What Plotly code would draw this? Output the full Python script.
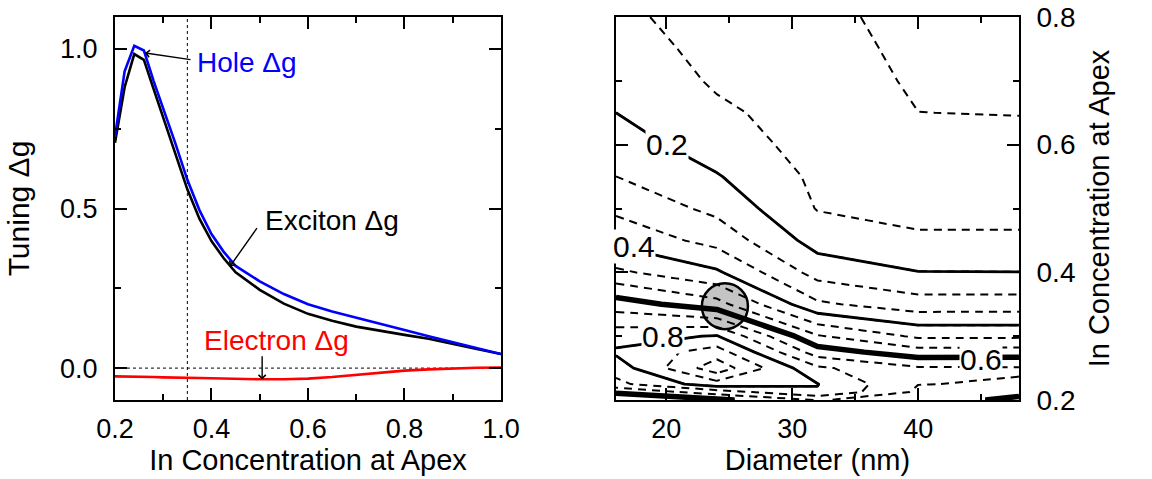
import plotly.graph_objects as go

# ---------------- Left panel data ----------------
conc = [0.20, 0.22, 0.24, 0.26, 0.28, 0.30, 0.325, 0.35, 0.375, 0.40, 0.425, 0.45,
        0.50, 0.55, 0.60, 0.65, 0.70, 0.75, 0.80, 0.85, 0.90, 0.95, 1.00]
hole_dg = [0.725, 0.93, 1.01, 0.995, 0.90, 0.815, 0.705, 0.59, 0.495, 0.42, 0.365, 0.32,
           0.272, 0.232, 0.200, 0.177, 0.157, 0.138, 0.119, 0.100, 0.082, 0.062, 0.044]
exciton_dg = [0.706, 0.88, 0.984, 0.966, 0.875, 0.785, 0.675, 0.560, 0.468, 0.398, 0.345, 0.300,
              0.245, 0.202, 0.170, 0.148, 0.130, 0.116, 0.104, 0.092, 0.077, 0.060, 0.044]
electron_dg = [-0.026, -0.026, -0.027, -0.027, -0.028, -0.029, -0.029, -0.030, -0.031, -0.032,
               -0.033, -0.034, -0.035, -0.035, -0.033, -0.028, -0.021, -0.014, -0.008, -0.004,
               -0.001, 0.001, 0.002]
marked_conc = 0.35

# ---------------- Right panel data ----------------
diameter = [16, 24, 32, 40, 48]
conc_grid = [0.200, 0.2125, 0.225, 0.250, 0.275, 0.300, 0.350, 0.400, 0.450, 0.500,
             0.550, 0.600, 0.650, 0.700, 0.750, 0.800]
# exciton tuning (rows: concentration, cols: diameter)
tuning_grid = [
    [0.550, 0.585, 0.670, 0.640, 0.580],
    [0.610, 0.700, 0.795, 0.655, 0.625],
    [0.715, 0.840, 0.802, 0.668, 0.662],
    [0.763, 0.975, 0.745, 0.675, 0.672],
    [0.810, 0.900, 0.633, 0.562, 0.565],
    [0.772, 0.805, 0.540, 0.455, 0.455],
    [0.633, 0.560, 0.345, 0.295, 0.296],
    [0.480, 0.410, 0.240, 0.202, 0.201],
    [0.383, 0.310, 0.173, 0.140, 0.140],
    [0.318, 0.250, 0.130, 0.120, 0.120],
    [0.267, 0.205, 0.120, 0.102, 0.100],
    [0.233, 0.165, 0.110, 0.085, 0.083],
    [0.200, 0.145, 0.105, 0.067, 0.065],
    [0.185, 0.125, 0.100, 0.058, 0.056],
    [0.170, 0.110, 0.090, 0.052, 0.048],
    [0.153, 0.095, 0.083, 0.045, 0.040],
]
contour_label_text = ["0.2", "0.4", "0.8", "0.6"]
contour_label_diam = [20.05, 17.45, 19.73, 44.98]
contour_label_conc = [0.600, 0.441, 0.300, 0.264]
circle_diam = 24.65
circle_conc = 0.347

FONT = "Liberation Sans, Arial, sans-serif"

fig = go.Figure()

# left panel curves
fig.add_trace(go.Scatter(x=[0.2, 1.0], y=[0, 0], mode="lines",
                         line=dict(color="black", width=1, dash="3px,3px"),
                         hoverinfo="skip", showlegend=False))
fig.add_trace(go.Scatter(x=conc, y=electron_dg, mode="lines",
                         line=dict(color="#ff0000", width=2.6), showlegend=False))
fig.add_trace(go.Scatter(x=conc, y=exciton_dg, mode="lines",
                         line=dict(color="black", width=2.6), showlegend=False))
fig.add_trace(go.Scatter(x=conc, y=hole_dg, mode="lines",
                         line=dict(color="#0000ff", width=2.6), showlegend=False))

# right panel contours
step = 1.0 / 15.0
fig.add_trace(go.Contour(x=diameter, y=conc_grid, z=tuning_grid, xaxis="x2", yaxis="y2",
                         autocontour=False, showlegend=False,
                         contours=dict(coloring="none", start=step, end=14 * step + 1e-6, size=step),
                         line=dict(color="black", width=2.0, dash="8px,6px", smoothing=0),
                         showscale=False, hoverinfo="skip"))
fig.add_trace(go.Contour(x=diameter, y=conc_grid, z=tuning_grid, xaxis="x2", yaxis="y2",
                         autocontour=False, showlegend=False,
                         contours=dict(coloring="none", start=0.2, end=0.8001, size=0.2),
                         line=dict(color="black", width=2.8, smoothing=0),
                         showscale=False, hoverinfo="skip"))
fig.add_trace(go.Contour(x=diameter, y=conc_grid, z=tuning_grid, xaxis="x2", yaxis="y2",
                         autocontour=False, showlegend=False,
                         contours=dict(coloring="none", start=0.6, end=0.6001, size=1.0),
                         line=dict(color="black", width=5.5, smoothing=0),
                         showscale=False, hoverinfo="skip"))

ax_common = dict(showline=True, linewidth=2, linecolor="black", mirror="ticks",
                 ticks="inside", ticklen=12, tickwidth=1.5, tickcolor="black",
                 showgrid=False, zeroline=False)

dom_y = [0.1649, 0.9645]
fig.update_layout(
    width=1152, height=479,
    margin=dict(l=0, r=0, t=0, b=0, autoexpand=False),
    showlegend=False,
    paper_bgcolor="white", plot_bgcolor="white",
    font=dict(family=FONT, color="black"),
    xaxis=dict(domain=[0.0998, 0.4349], range=[0.2, 1.0], tickvals=[0.2, 0.4, 0.6, 0.8, 1.0],
               tickformat=".1f", anchor="y",
               minor=dict(tickvals=[0.3, 0.5, 0.7, 0.9], ticks="inside", ticklen=6,
                          tickwidth=1.5, tickcolor="black"),
               title=dict(text="In Concentration at Apex", font=dict(family=FONT, size=29),
                          standoff=0),
               tickfont=dict(family=FONT, size=27, color="black"),
               ticklabelstandoff=4,
               **ax_common),
    yaxis=dict(domain=dom_y, range=[-0.1, 1.1], tickvals=[0.0, 0.5, 1.0], tickformat=".1f",
               anchor="x",
               minor=dict(tickvals=[0.25, 0.75], ticks="inside", ticklen=6,
                          tickwidth=1.5, tickcolor="black"),
               title=dict(text="Tuning Δg", font=dict(family=FONT, size=30), standoff=22),
               tickfont=dict(family=FONT, size=27, color="black"),
               ticklabelstandoff=10,
               **ax_common),
    xaxis2=dict(domain=[0.5347, 0.8845], range=[16, 48], tickvals=[20, 30, 40], anchor="y2",
                minor=dict(tickvals=[25, 35, 45], ticks="inside", ticklen=6,
                           tickwidth=1.5, tickcolor="black"),
                title=dict(text="Diameter (nm)", font=dict(family=FONT, size=29), standoff=0),
                tickfont=dict(family=FONT, size=27, color="black"),
                ticklabelstandoff=4,
                **ax_common),
    yaxis2=dict(domain=dom_y, range=[0.2, 0.8], tickvals=[0.2, 0.4, 0.6, 0.8], tickformat=".1f",
                side="right", anchor="x2",
                minor=dict(tickvals=[0.3, 0.5, 0.7], ticks="inside", ticklen=6,
                           tickwidth=1.5, tickcolor="black"),
                title=dict(text="In Concentration at Apex", font=dict(family=FONT, size=29),
                           standoff=14),
                tickfont=dict(family=FONT, size=28, color="black"),
                ticklabelstandoff=10,
                **ax_common),
)

# vertical marker line at chosen concentration
fig.add_shape(type="line", xref="x", yref="y domain", x0=marked_conc, x1=marked_conc, y0=0, y1=1,
              line=dict(color="black", width=1, dash="3px,3px"))

# circle on contour panel (under contour lines)
rx, ry = 1.83, 0.036
fig.add_shape(type="circle", xref="x2", yref="y2", layer="below",
              x0=circle_diam - rx, x1=circle_diam + rx, y0=circle_conc - ry, y1=circle_conc + ry,
              fillcolor="#c4c4c4", line=dict(color="black", width=2.5))

# curve labels with arrows
lab_font = dict(family=FONT, size=28)
fig.add_annotation(x=0.3658, y=0.959, xref="x", yref="y", text="Hole Δg", showarrow=False,
                   xanchor="left", yanchor="middle", font=dict(color="#0000ff", **lab_font))
fig.add_annotation(x=0.262, y=0.9875, ax=0.3596, ay=0.9656, xref="x", yref="y", axref="x", ayref="y",
                   text="", showarrow=True, arrowhead=4, arrowsize=1, arrowwidth=1.4,
                   arrowcolor="black")
fig.add_annotation(x=0.5067, y=0.462, xref="x", yref="y", text="Exciton Δg", showarrow=False,
                   xanchor="left", yanchor="middle", font=dict(color="black", **lab_font))
fig.add_annotation(x=0.438, y=0.318, ax=0.4964, ay=0.443, xref="x", yref="y", axref="x", ayref="y",
                   text="", showarrow=True, arrowhead=4, arrowsize=1, arrowwidth=1.4,
                   arrowcolor="black")
fig.add_annotation(x=0.3803, y=0.086, xref="x", yref="y", text="Electron Δg", showarrow=False,
                   xanchor="left", yanchor="middle", font=dict(color="#ff0000", **lab_font))
fig.add_annotation(x=0.505, y=-0.036, ax=0.505, ay=0.042, xref="x", yref="y", axref="x", ayref="y",
                   text="", showarrow=True, arrowhead=4, arrowsize=1, arrowwidth=1.4,
                   arrowcolor="black")

# contour level labels
for t, d, c in zip(contour_label_text, contour_label_diam, contour_label_conc):
    fig.add_annotation(x=d, y=c, xref="x2", yref="y2", text=t, showarrow=False,
                       bgcolor="white", borderpad=0,
                       font=dict(family=FONT, size=30, color="black"))

fig.write_html("out.html")
